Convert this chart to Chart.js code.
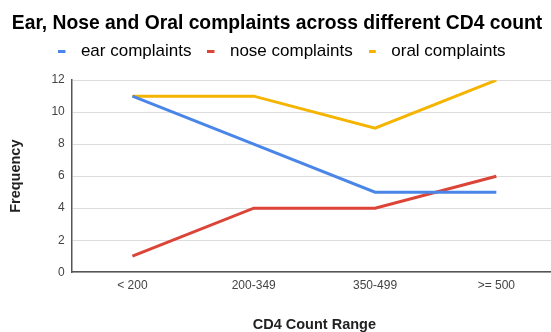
<!DOCTYPE html>
<html>
<head>
<meta charset="utf-8">
<script src="https://cdn.jsdelivr.net/npm/chart.js@4/dist/chart.umd.min.js"></script>
<style>
  html, body { margin: 0; padding: 0; background: #fff; overflow: hidden; }
  #wrap { width: 557px; height: 332px; }
</style>
</head>
<body>
<div id="wrap"><canvas id="cd4"></canvas></div>
<script>
'use strict'

var ranges = ['< 200', '200-349', '350-499', '>= 500'];
var ear = [11, 8, 5, 5];
var nose = [1, 4, 4, 6];
var oral = [11, 11, 9, 12];
var yTicks = [0, 2, 4, 6, 8, 10, 12];

Chart.defaults.font.family = '"Liberation Sans", Arial, sans-serif';

// short dash used as the legend marker, left-aligned inside a wider box
function marker(color) {
  var c = document.createElement('canvas');
  c.width = 14;
  c.height = 3;
  var g = c.getContext('2d');
  g.fillStyle = color;
  g.fillRect(0, 0, 7, 3);
  return c;
}

// extra room between the legend and the plot, title nudged left
var headerTweaks = {
  id: 'headerTweaks',
  beforeInit: function (chart) {
    var fit = chart.legend.fit;
    chart.legend.fit = function () {
      fit.call(this);
      this.height += 10;
    };
  },
  afterLayout: function (chart) {
    chart.titleBlock.left -= 5;
    chart.titleBlock.right -= 5;
  }
};

function line(label, values, color) {
  return {
    label: label,
    data: values,
    borderColor: color,
    backgroundColor: color,
    borderWidth: 3,
    pointRadius: 0,
    tension: 0
  };
}

var ctx = document.getElementById('cd4');
var mychart = new Chart(ctx, {
  type: 'line',
  data: {
    labels: ranges,
    datasets: [
      line('ear complaints', ear, '#4a86e8'),
      line('nose complaints', nose, '#db4437'),
      line('oral complaints', oral, '#f4b400')
    ]
  },
  plugins: [headerTweaks],
  options: {
    responsive: true,
    maintainAspectRatio: false,
    animation: false,
    layout: { padding: { left: 7, right: 0, top: 4, bottom: -2 } },
    plugins: {
      title: {
        display: true,
        text: 'Ear, Nose and Oral complaints across different CD4 count',
        color: '#000',
        font: { size: 19.3, weight: 'bold' },
        padding: { top: 8, bottom: -8 }
      },
      legend: {
        labels: {
          color: '#222',
          font: { size: 17 },
          usePointStyle: true,
          pointStyleWidth: 14,
          padding: 16,
          generateLabels: function (chart) {
            return chart.data.datasets.map(function (ds, i) {
              return {
                text: ds.label,
                fillStyle: ds.borderColor,
                strokeStyle: ds.borderColor,
                lineWidth: 0,
                pointStyle: marker(ds.borderColor),
                datasetIndex: i
              };
            });
          }
        }
      },
      tooltip: { enabled: false }
    },
    scales: {
      x: {
        offset: true,
        grid: { display: false, drawTicks: false },
        border: { color: '#555', width: 1.5 },
        ticks: { color: '#444', font: { size: 12 }, padding: 6 },
        title: {
          display: true,
          text: 'CD4 Count Range',
          color: '#222',
          font: { size: 14.5, weight: 'bold' },
          padding: { top: 18, bottom: 0 }
        }
      },
      y: {
        min: 0,
        max: 12,
        afterBuildTicks: function (axis) {
          axis.ticks = yTicks.map(function (v) { return { value: v }; });
        },
        grid: { color: '#dcdcdc', drawTicks: false },
        border: { color: '#555', width: 1.5 },
        ticks: { color: '#444', font: { size: 12 }, padding: 7 },
        title: {
          display: true,
          text: 'Frequency',
          color: '#222',
          font: { size: 14.5, weight: 'bold' },
          padding: { top: 0, bottom: 20 }
        }
      }
    }
  }
});
</script>
</body>
</html>
